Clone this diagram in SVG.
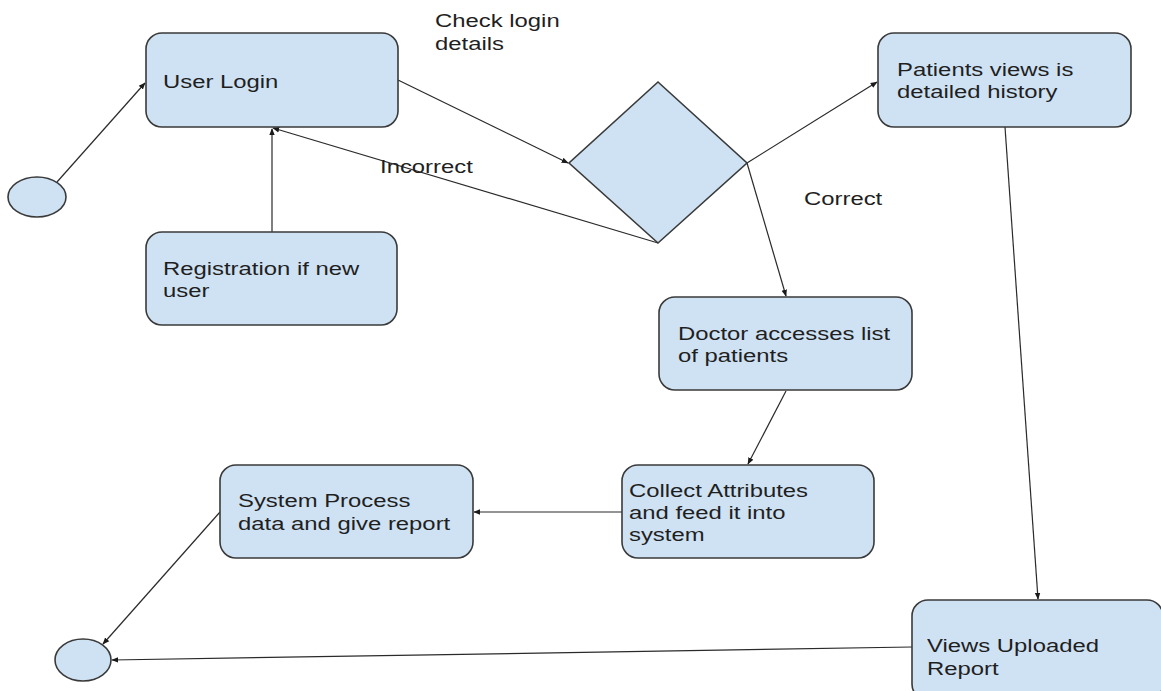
<svg xmlns="http://www.w3.org/2000/svg" width="1161" height="691" viewBox="0 0 1161 691">
  <style>
    .box { fill: #cfe2f3; stroke: #3a3a3a; stroke-width: 1.6; }
    .edge { fill: none; stroke: #2a2a2a; stroke-width: 1.2; marker-end: url(#arrow); }
    .lbl { font-family: "Liberation Sans", Arial, sans-serif; font-size: 18.5px; fill: #1f1f1f; }
  </style>
  <defs>
    <marker id="arrow" viewBox="0 0 10 10" refX="9" refY="5" markerWidth="7" markerHeight="7" orient="auto" markerUnits="userSpaceOnUse">
      <path d="M0,1 L10,5 L0,9 z" fill="#1a1a1a"/>
    </marker>
  </defs>
  <rect width="1161" height="691" fill="#ffffff"/>

  <!-- connectors -->
  <g id="connectors">
    <line class="edge" x1="57" y1="182" x2="145" y2="83"/>
    <line class="edge" x1="272" y1="232" x2="272" y2="129"/>
    <line class="edge" x1="398" y1="80" x2="568" y2="163"/>
    <line class="edge" x1="658" y1="243" x2="273" y2="128"/>
    <line class="edge" x1="747" y1="163" x2="877" y2="82"/>
    <line class="edge" x1="747" y1="163" x2="786" y2="296"/>
    <line class="edge" x1="1005" y1="127" x2="1038" y2="599"/>
    <line class="edge" x1="786" y1="391" x2="748" y2="464"/>
    <line class="edge" x1="622" y1="512" x2="474" y2="512"/>
    <line class="edge" x1="220" y1="512" x2="103" y2="644"/>
    <line class="edge" x1="912" y1="647" x2="112" y2="660"/>
  </g>

  <!-- edge labels -->
  <g id="edge-labels">
    <text class="lbl" transform="translate(435,27) scale(1.29,1)"><tspan x="0" y="0">Check login</tspan><tspan x="0" y="23">details</tspan></text>
    <text class="lbl" transform="translate(380,173) scale(1.29,1)">Incorrect</text>
    <text class="lbl" transform="translate(804,205) scale(1.29,1)">Correct</text>
  </g>

  <g id="start">
    <ellipse class="box" cx="37" cy="197" rx="29" ry="20"/>
  </g>

  <g id="user-login">
    <rect class="box" x="146" y="33" width="252" height="94" rx="16" ry="16"/>
    <text class="lbl" transform="translate(163,88) scale(1.29,1)">User Login</text>
  </g>

  <g id="registration">
    <rect class="box" x="146" y="232" width="251" height="93" rx="16" ry="16"/>
    <text class="lbl" transform="translate(163,275) scale(1.29,1)"><tspan x="0" y="0">Registration if new</tspan><tspan x="0" y="22">user</tspan></text>
  </g>

  <g id="check-decision">
    <polygon class="box" points="658,82 747,163 658,243 569,163"/>
  </g>

  <g id="patient-history">
    <rect class="box" x="878" y="33" width="253" height="94" rx="16" ry="16"/>
    <text class="lbl" transform="translate(897,76) scale(1.29,1)"><tspan x="0" y="0">Patients views is</tspan><tspan x="0" y="22">detailed history</tspan></text>
  </g>

  <g id="doctor-list">
    <rect class="box" x="659" y="297" width="253" height="93" rx="16" ry="16"/>
    <text class="lbl" transform="translate(678,340) scale(1.29,1)"><tspan x="0" y="0">Doctor accesses list</tspan><tspan x="0" y="22">of patients</tspan></text>
  </g>

  <g id="collect-attributes">
    <rect class="box" x="622" y="465" width="252" height="93" rx="16" ry="16"/>
    <text class="lbl" transform="translate(629,497) scale(1.29,1)"><tspan x="0" y="0">Collect Attributes</tspan><tspan x="0" y="22">and feed it into</tspan><tspan x="0" y="44">system</tspan></text>
  </g>

  <g id="system-process">
    <rect class="box" x="220" y="465" width="253" height="93" rx="16" ry="16"/>
    <text class="lbl" transform="translate(238,507) scale(1.29,1)"><tspan x="0" y="0">System Process</tspan><tspan x="0" y="23">data and give report</tspan></text>
  </g>

  <g id="views-report">
    <rect class="box" x="912" y="600" width="251" height="100" rx="16" ry="16"/>
    <text class="lbl" transform="translate(927,652) scale(1.29,1)"><tspan x="0" y="0">Views Uploaded</tspan><tspan x="0" y="23">Report</tspan></text>
  </g>

  <g id="end">
    <ellipse class="box" cx="83" cy="660" rx="28" ry="21"/>
  </g>
</svg>
